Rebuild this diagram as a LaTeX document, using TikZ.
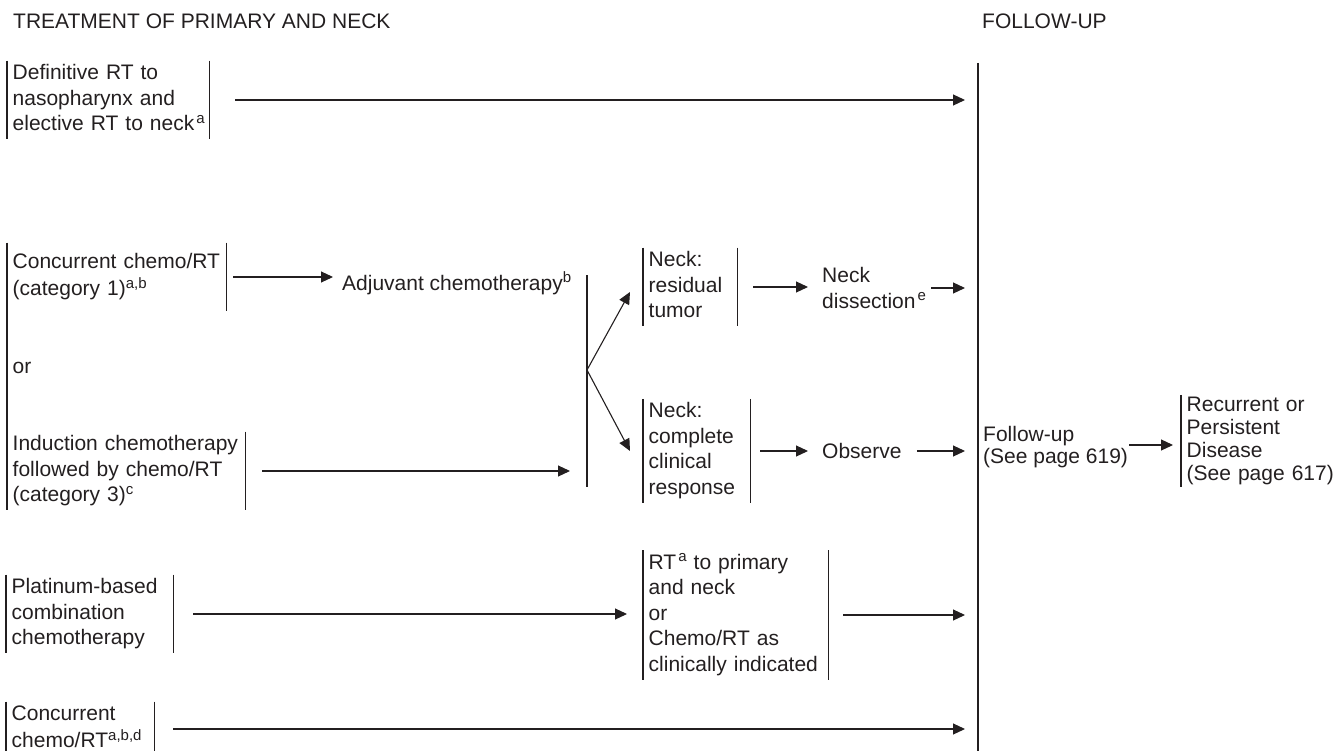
\documentclass[tikz,border=0pt]{standalone}
\usepackage{fontspec}
\setmainfont{Liberation Sans}
\usetikzlibrary{arrows.meta}
\definecolor{ink}{RGB}{35,31,32}
% raised footnote letters
\newcommand\supx[1]{\raisebox{0.36em}{\fontsize{15}{15}\selectfont #1}}
\begin{document}
\begin{tikzpicture}[x=1pt,y=-1pt,
  every node/.style={font=\fontsize{21}{25.5}\selectfont, text=ink},
  txt/.style={inner sep=0pt, align=left, anchor=west},
  brk/.style={align=left, anchor=west, inner xsep=5.5pt, inner ysep=1pt,
     execute at begin node=\strut, execute at end node=\strut},
  tight/.style={font=\fontsize{21}{23}\selectfont},
  bar/.style={draw=ink, line width=1.1pt},
  arr/.style={draw=ink, line width=1.1pt, -{Triangle[length=12pt,width=11pt]}},
  head/.style={inner sep=0pt, anchor=base west}]
\useasboundingbox (0,0) rectangle (1337,751);

% column headings
\node[head] (h1) at (13,29) {TREATMENT OF PRIMARY AND NECK};
\node[head] (h2) at (982,29) {FOLLOW-UP};

% follow-up column rule
\coordinate (futop) at (978,63);
\coordinate (fubot) at (978,751);
\draw[bar] (futop) -- (fubot);

% treatment options
\node[brk, text width=191pt] (def) at (7,100) {Definitive RT to\\nasopharynx and\\\mbox{elective RT to neck\kern2pt\supx{a}}};
\node[brk, text width=208pt, inner ysep=8pt] (conc) at (7,277) {Concurrent chemo/RT\\(category 1)\supx{a,b}};
\node[txt, anchor=base west] (adj) at (342,290) {Adjuvant chemotherapy\supx{b}};
\node[txt, anchor=base west] (or) at (12.5,373) {or};
\node[brk, text width=227pt] (ind) at (7,471) {Induction chemotherapy\\followed by chemo/RT\\(category 3)\supx{c}};
\coordinate (forktop) at (587,275);
\coordinate (fork) at (587,370);
\coordinate (forkbot) at (587,487);
\node[brk, text width=83pt] (nr) at (643,287) {Neck:\\residual\\tumor};
\node[txt] (nd) at (822,288) {Neck\\dissection\kern2pt\supx{e}};
\node[brk, text width=96pt] (ncr) at (643,451) {Neck:\\complete\\clinical\\response};
\node[txt, anchor=base west] (obs) at (822,458) {Observe};
\node[txt, font=\fontsize{21}{21.5}\selectfont] (fup) at (983,447) {Follow-up\\(See page 619)};
\node[brk, tight, inner ysep=0pt, text width=150pt] (rec) at (1181,441) {Recurrent or\\Persistent\\Disease\\(See page 617)};
\node[brk, text width=156pt] (plat) at (6,614) {Platinum-based\\combination\\chemotherapy};
\node[brk, text width=174pt] (rt) at (643,615) {RT\kern2pt\supx{a} to primary\\and neck\\or\\Chemo/RT as\\clinically indicated};
\node[brk, text width=137pt] (cc) at (6,729) {Concurrent\\chemo/RT\supx{a,b,d}};

% bracket rules
\foreach \n in {def,conc,ind,nr,ncr,plat,rt,cc}
  \draw[bar] (\n.north east) -- (\n.south east);
\foreach \n in {def,nr,ncr,plat,rt,cc,rec}
  \draw[bar] (\n.north west) -- (\n.south west);
\draw[bar] (conc.north west) -- (ind.south west);
\draw[bar] (forktop) -- (forkbot);

% connectors
\draw[arr, shorten <=26pt, shorten >=13pt] (def.east) -- (def.east -| futop);
\draw[arr, shorten <=7pt, shorten >=9pt] (conc.east) -- (conc.east -| adj.west);
\draw[arr, shorten <=17pt, shorten >=17pt] (ind.east) -- (ind.east -| fork);
\draw[arr] (fork) -- ([xshift=-13pt,yshift=-5pt]nr.west);
\draw[arr] (fork) -- ([xshift=-13pt]ncr.west);
\draw[arr, shorten <=16pt, shorten >=14pt] (nr.east) -- (nr.east -| nd.west);
\draw[arr, shorten <=5pt, shorten >=13pt] (nd.east) -- (nd.east -| futop);
\draw[arr, shorten <=10pt, shorten >=14pt] (ncr.east) -- (ncr.east -| obs.west);
\draw[arr, shorten <=15pt, shorten >=13pt] (ncr.east -| obs.east) -- (ncr.east -| futop);
\draw[arr, shorten <=1pt, shorten >=8pt] ([yshift=2pt]fup.east) -- ([yshift=2pt]fup.east -| rec.west);
\draw[arr, shorten <=20pt, shorten >=16pt] (plat.east) -- (plat.east -| rt.west);
\draw[arr, shorten <=15pt, shorten >=13pt] (rt.east) -- (rt.east -| futop);
\draw[arr, shorten <=19pt, shorten >=13pt] (cc.east) -- (cc.east -| futop);
\end{tikzpicture}
\end{document}
